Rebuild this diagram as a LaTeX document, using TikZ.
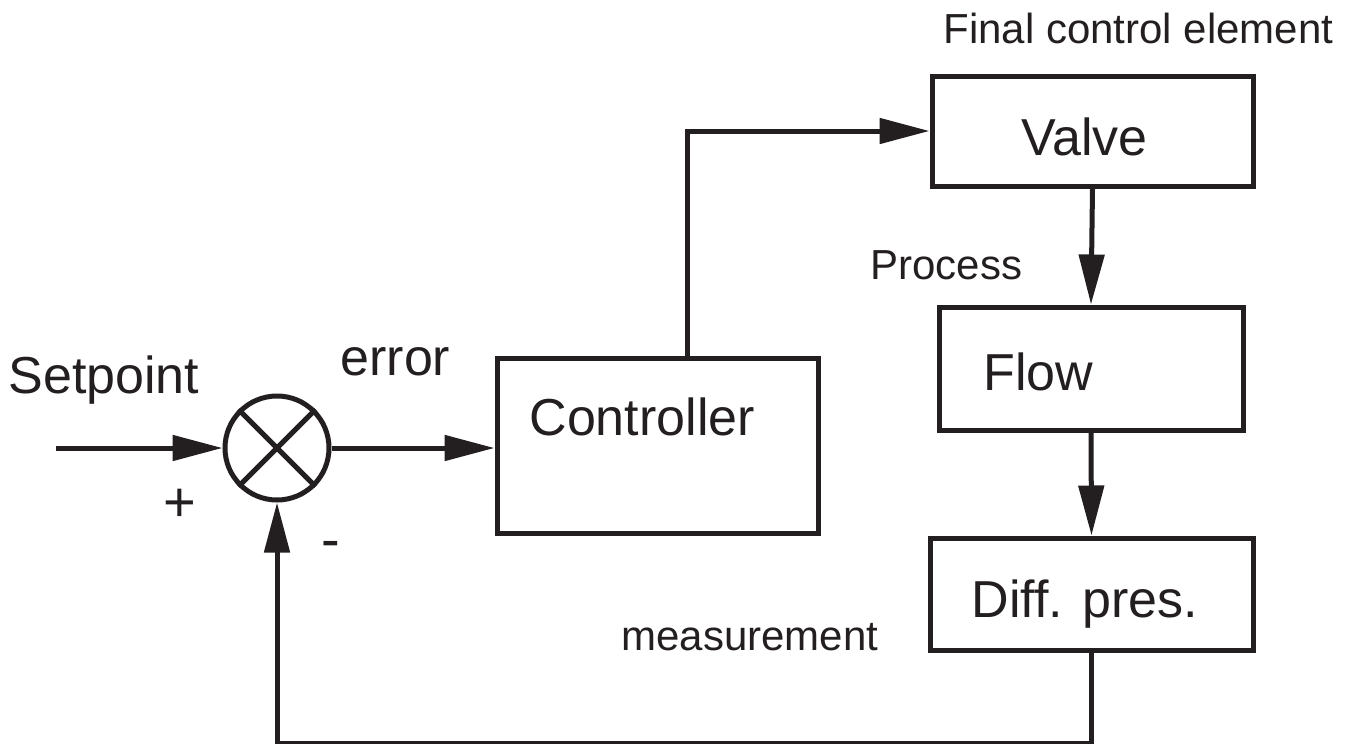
\documentclass[tikz,border=0pt]{standalone}
\usepackage{fontspec}
\setmainfont{Liberation Sans}
\usetikzlibrary{arrows.meta}
\definecolor{ink}{HTML}{231F20}
\begin{document}
\begin{tikzpicture}[x=1pt,y=-1pt,
  line width=5pt, draw=ink,
  box/.style={draw=ink, rectangle, inner sep=0pt, line width=5pt},
  big/.style={text=ink, inner sep=0pt, anchor=base west, font=\fontsize{52}{60}\selectfont},
  small/.style={text=ink, inner sep=0pt, anchor=base west, font=\fontsize{42}{50}\selectfont},
  sign/.style={text=ink, inner sep=0pt, font=\fontsize{56}{60}\selectfont},
  flow/.style={draw=ink, line width=5pt, -{Triangle[length=50pt,width=25pt]}},
  wire/.style={draw=ink, line width=5pt}]
\useasboundingbox (0,0) rectangle (1365,744);
\fill[white] (0,0) rectangle (1365,744);

% summing junction
\node[draw=ink, circle, line width=5pt, minimum size=104pt, inner sep=0pt] (sum) at (277,448) {};
\draw[wire] (sum.45) -- (sum.225);
\draw[wire] (sum.135) -- (sum.-45);

% blocks
\node[box, minimum width=321pt, minimum height=175pt] (ctrl) at (657.5,445.5) {};
\node[box, minimum width=321pt, minimum height=110pt] (valve) at (1092.5,131) {};
\node[box, minimum width=304pt, minimum height=123pt] (flowbox) at (1091,368.5) {};
\node[box, minimum width=323pt, minimum height=112pt] (diff) at (1091.5,594) {};

% block texts
\node[big] (ctrltxt) at (527,435) {Controller};
\node[big] (valvetxt) at (1019,155) {Valve};
\node[big] (flowtxt) at (981,390) {Flow};
\node[big] (difftxt) at (969,617) {Diff. pres.};

% labels
\node[big] (setpt) at (6,393) {Setpoint};
\node[big] (err) at (338,375) {error};
\node[small] (fce) at (941,43) {Final control element};
\node[small] (proc) at (868,279) {Process};
\node[small] (meas) at (619,650) {measurement};
\node[sign] (plus) at (180,505) {+};
\node[sign] (minus) at (331,550) {-};

% connectors
\coordinate (in) at (56,448);
\draw[flow] (in) -- (sum.west);
\draw[flow] (sum.east) -- (sum.east -| ctrl.west);
\draw[flow] ([xshift=193pt]ctrl.north west) |- (valve.west);
\draw[flow] (valve.south) -- (flowbox.north);
\draw[flow] (flowbox.south) -- (diff.north);
\draw[flow] (diff.south) -- ++(0,91) -| (sum.south);
\end{tikzpicture}
\end{document}
